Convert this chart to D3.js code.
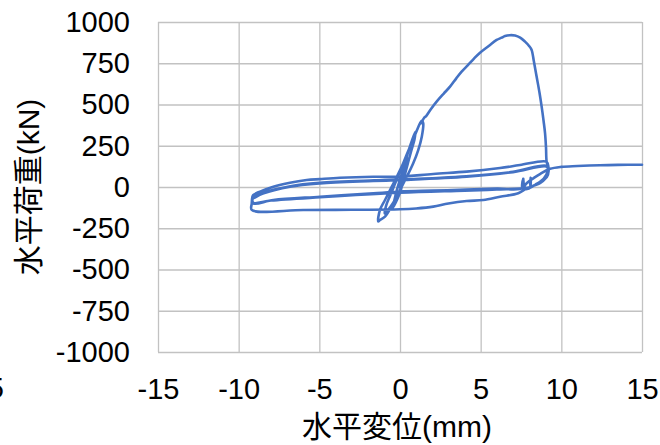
<!DOCTYPE html>
<html>
<head>
<meta charset="utf-8">
<script src="https://cdn.jsdelivr.net/npm/d3@7"></script>
<style>
  body { margin: 0; background: #fff; }
  svg { display: block; }
</style>
</head>
<body>
<svg id="chart" width="660" height="445"></svg>
<script>
// Axis ticks
const xTicks = [-15, -10, -5, 0, 5, 10, 15];
const yTicks = [-1000, -750, -500, -250, 0, 250, 500, 750, 1000];

// Load history as [displacement (mm), load (kN)] pairs, in loading order.
// Small cycles around the origin
const initialCycles = [
  [0, 0], [0.1, 40], [0.25, 100], [0.4, 160], [0.45, 175], [0.35, 120], [0.2, 50],
  [0.05, -20], [-0.15, -70], [-0.35, -110], [-0.45, -125], [-0.35, -80], [-0.2, -20],
  [-0.05, 30], [0.15, 90], [0.4, 180], [0.7, 270], [0.95, 335], [0.9, 290], [0.7, 220],
  [0.45, 130], [0.2, 40], [-0.1, -40], [-0.45, -100], [-0.75, -140], [-0.95, -160],
  [-0.85, -110], [-0.6, -50], [-0.35, 10], [-0.1, 70], [0.2, 144], [0.62, 244],
  [0.93, 315], [1.24, 386], [1.36, 402], [1.44, 386], [1.35, 305], [1.13, 224],
  [0.82, 144], [0.42, 62], [0, -18], [-0.42, -99], [-0.93, -180], [-1.24, -200],
  [-1.35, -208], [-1.24, -139], [-0.93, -79], [-0.51, 2], [-0.2, 62], [0.2, 144],
  [0.62, 244], [0.93, 315], [1.24, 386], [1.36, 402]
];

// Monotonic push up to peak and post-peak drop
const envelope = [
  [1.30, 385], [1.50, 420], [1.62, 430], [1.9, 470], [2.27, 517], [2.7, 565],
  [3.1, 608], [3.5, 660], [3.82, 699], [4.21, 739], [4.6, 780], [4.96, 814],
  [5.5, 855], [5.99, 891], [6.3, 905], [6.51, 915], [6.8, 920], [7.13, 918],
  [7.45, 905], [7.75, 881], [8.0, 855], [8.16, 830], [8.3, 760], [8.47, 668],
  [8.65, 570], [8.78, 487], [8.9, 400], [8.99, 327], [9.05, 240], [9.09, 153]
];

// Large reversed cycles between about -9 mm and +9 mm
const reversedCycles = [
  [9.19, 120], [9.19, 93], [9.0, 60], [8.68, 32], [8.3, 8], [7.85, -8], [7.33, -38],
  [6.2, -59], [5.16, -79], [4.13, -85], [3.0, -100], [2.06, -119], [1.0, -130],
  [0, -135], [-3, -138], [-6, -139], [-9.19, -139],
  [-9.19, -100], [-9.15, -60], [-9.09, -48], [-8.68, -28], [-7.85, 2], [-6.82, 26],
  [-5.78, 42], [-4.96, 48], [-3.72, 56], [-1.65, 62], [0, 62], [2.06, 79], [4.13, 93],
  [6.2, 115], [7.44, 133], [9.09, 153],
  [9.2, 120], [9.2, 90], [9.0, 50], [8.7, 25], [8.3, 8], [8.1, -2], [8.1, 55],
  [8.05, 0], [7.7, -8], [7.64, 50], [7.6, -5], [6.0, -10], [4.13, -16], [2.0, -22],
  [0, -28], [-1.65, -38], [-4.96, -59], [-7.85, -79], [-9.09, -99],
  [-9.15, -70], [-9.09, -68], [-8.5, -40], [-6.82, 2], [-4.96, 22], [-1.65, 36],
  [0, 42], [4.13, 62], [7.0, 90], [9.09, 123],
  [9.2, 100], [9.1, 60], [8.7, 30], [8.2, 5], [7.9, -5], [6.0, -15], [4.0, -22],
  [0, -35], [-4.96, -62], [-8.0, -82], [-9.09, -95],
  [-9.1, -65], [-8.5, -35], [-6.8, 5], [-5.0, 25], [-1.6, 40], [0, 45], [4.1, 65],
  [7.0, 92], [9.1, 128],
  [9.15, 95], [8.9, 50], [8.4, 15], [8.1, 0], [8.1, 55], [8.05, -5], [7.7, -10],
  [7.62, 45], [7.58, -8]
];

// Final push to +15 mm
const finalPush = [
  [7.85, 23], [8.3, 55], [8.7, 80], [9.3, 110], [10.0, 122], [11.0, 127],
  [12.4, 132], [13.5, 134], [15.0, 135]
];

const loadPath = [].concat(initialCycles, envelope, reversedCycles, finalPush);

const svg = d3.select("#chart");
const plot = { left: 158, right: 642, top: 22, bottom: 352 };

const x = d3.scaleLinear().domain([-15, 15]).range([plot.left, plot.right]);
const y = d3.scaleLinear().domain([-1000, 1000]).range([plot.bottom, plot.top]);

const latinFont = "'Liberation Sans', Arial, sans-serif";
const titleFont = "'Liberation Sans', 'Noto Sans CJK JP', sans-serif";
const plainNumber = d => String(d);   // ASCII hyphen for negatives

// Vertical gridlines + x tick labels
const xAxis = svg.append("g")
  .attr("transform", `translate(0,${plot.bottom})`)
  .call(d3.axisBottom(x).tickValues(xTicks).tickFormat(plainNumber)
    .tickSize(-(plot.bottom - plot.top)).tickPadding(26));

// Horizontal gridlines + y tick labels
const yAxis = svg.append("g")
  .attr("transform", `translate(${plot.left},0)`)
  .call(d3.axisLeft(y).tickValues(yTicks).tickFormat(plainNumber)
    .tickSize(-(plot.right - plot.left)).tickPadding(28));

[xAxis, yAxis].forEach(g => {
  g.select(".domain").remove();
  g.selectAll(".tick line").attr("stroke", "#c2c2c2").attr("stroke-width", 1.3);
  g.selectAll(".tick text")
    .attr("fill", "#000")
    .style("font-family", latinFont)
    .style("font-size", "29px");
});

// Load–displacement curve
const line = d3.line()
  .x(d => x(d[0]))
  .y(d => y(d[1]))
  .curve(d3.curveCatmullRom.alpha(0.5));
svg.append("path")
  .datum(loadPath)
  .attr("d", line)
  .attr("fill", "none")
  .attr("stroke", "#4472C4")
  .attr("stroke-width", 2.6)
  .attr("stroke-linejoin", "round")
  .attr("stroke-linecap", "round");

// Axis titles
svg.append("text")
  .attr("x", (plot.left + plot.right) / 2 - 3)
  .attr("y", 437)
  .attr("text-anchor", "middle")
  .style("font-family", titleFont)
  .style("font-size", "30px")
  .attr("fill", "#000")
  .text("水平変位(mm)");

svg.append("text")
  .attr("transform", `translate(39,${(plot.top + plot.bottom) / 2}) rotate(-90)`)
  .attr("text-anchor", "middle")
  .style("font-family", titleFont)
  .style("font-size", "30px")
  .attr("fill", "#000")
  .text("水平荷重(kN)");

// Label cut off at the left edge
svg.append("text")
  .attr("x", 4)
  .attr("y", 398)
  .attr("text-anchor", "end")
  .style("font-family", latinFont)
  .style("font-size", "29px")
  .attr("fill", "#000")
  .text("5");
</script>
</body>
</html>
